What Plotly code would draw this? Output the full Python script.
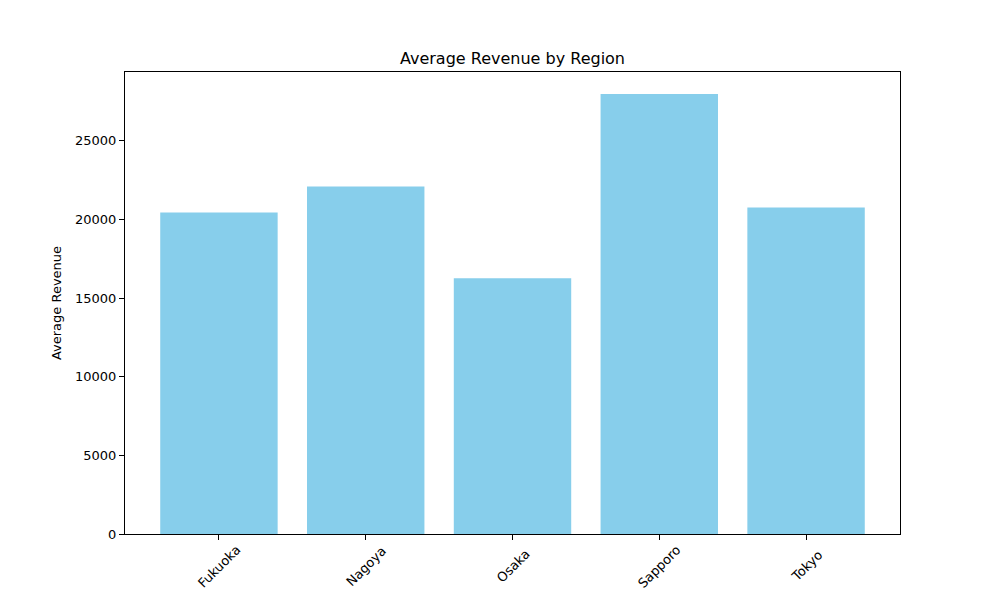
import plotly.graph_objects as go

regions = ['Fukuoka', 'Nagoya', 'Osaka', 'Sapporo', 'Tokyo']
avg_revenue = [20440, 22090, 16260, 27980, 20760]

y_ticks = [0, 5000, 10000, 15000, 20000, 25000]

font = 'DejaVu Sans'

fig = go.Figure(go.Bar(
    x=regions,
    y=avg_revenue,
    marker=dict(color='#87ceeb', line=dict(width=0)),
    width=0.8,
))

# matplotlib-style rotated labels centred on each tick
for r in regions:
    fig.add_annotation(
        x=r, y=0, xref='x', yref='y',
        text=r, textangle=-45, showarrow=False,
        yanchor='middle', xanchor='center', yshift=-32,
        font=dict(family=font, size=13, color='black'),
    )

# page body adds ~8px offset, so the figure is sized a bit smaller
fig.update_layout(
    width=984, height=584,
    plot_bgcolor='white', paper_bgcolor='white',
    margin=dict(l=117, r=92, t=64, b=58),
    showlegend=False,
    font=dict(family=font, size=13, color='black'),
    title=dict(
        text='Average Revenue by Region',
        x=(117 + 775 / 2) / 984, xanchor='center',
        y=1 - 50 / 584, yanchor='middle', yref='container',
        font=dict(family=font, size=16, color='black'),
    ),
    xaxis=dict(
        range=[-0.64, 4.64],
        showline=True, linecolor='black', linewidth=1, mirror=True,
        ticks='outside', ticklen=5, tickcolor='black',
        showticklabels=False, showgrid=False, automargin=False,
    ),
    yaxis=dict(
        range=[0, 29379],
        tickvals=y_ticks,
        tickformat='d',
        showline=True, linecolor='black', linewidth=1, mirror=True,
        ticks='outside', ticklen=5, tickcolor='black',
        showgrid=False, zeroline=False, automargin=False,
        title=dict(text='Average Revenue', standoff=10,
                   font=dict(family=font, size=13, color='black')),
        tickfont=dict(family=font, size=13, color='black'),
    ),
)

fig.write_html('out.html')
